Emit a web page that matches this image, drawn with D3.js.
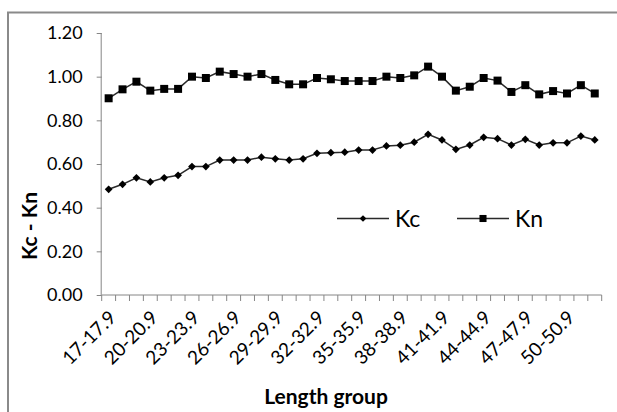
<!DOCTYPE html>
<html><head><meta charset="utf-8">
<script src="https://cdn.jsdelivr.net/npm/d3@7"></script>
<style>body{margin:0;background:#fff}svg{display:block}text{font-family:Lato,"Open Sans",sans-serif;fill:#000}</style>
</head><body><svg id="c" width="617" height="412"></svg>
<script>
const categories = [];
for (let i = 17; i <= 52; i++) categories.push(i + "-" + i + ".9");
const kc = [0.484,0.507,0.537,0.518,0.537,0.548,0.588,0.588,0.618,0.618,0.618,0.631,0.624,0.618,0.624,0.649,0.652,0.654,0.664,0.664,0.683,0.686,0.700,0.736,0.710,0.667,0.687,0.722,0.716,0.687,0.713,0.687,0.697,0.697,0.728,0.710];
const kn = [0.901,0.942,0.977,0.936,0.944,0.944,1.000,0.994,1.023,1.012,1.000,1.012,0.985,0.965,0.965,0.994,0.988,0.980,0.980,0.980,1.000,0.994,1.006,1.046,1.000,0.936,0.954,0.994,0.982,0.930,0.961,0.919,0.934,0.923,0.961,0.923];
const yTicks = [0,0.2,0.4,0.6,0.8,1.0,1.2];
const labelEvery = 3;

const svg = d3.select("#c");
const L = 101.7, R = 601.7, T = 33, B = 295;
const x = d3.scaleBand().domain(categories).range([L, R]);
const y = d3.scaleLinear().domain([0, 1.2]).range([B, T]);
const axisColor = "#868686";

// outer border
svg.append("path").attr("d", "M8,420 L8,12.5 L625,12.5").attr("fill","none").attr("stroke","#8a8a8a").attr("stroke-width",2);

// y axis
const ya = svg.append("g").attr("transform", `translate(${L},0)`)
  .call(d3.axisLeft(y).tickValues(yTicks).tickSize(5).tickPadding(14).tickFormat(d3.format(".2f")));
ya.select(".domain").attr("stroke", axisColor).attr("d", `M-0.5,${T}V${B}`);
ya.selectAll(".tick line").attr("stroke", axisColor);
ya.selectAll(".tick text").style("font-size","18px").style("font-family","Lato,sans-serif").attr("fill","#000");

// x axis
const xa = svg.append("g").attr("transform", `translate(0,${B})`);
xa.append("line").attr("x1", L).attr("x2", R).attr("stroke", axisColor);
const bounds = categories.map(c => x(c)).concat([R]);
xa.selectAll("line.tk").data(bounds).enter().append("line").attr("class","tk")
  .attr("x1", d => d).attr("x2", d => d).attr("y1", 0).attr("y2", 6).attr("stroke", axisColor);
xa.selectAll("text").data(categories.filter((c,i) => i % labelEvery === 0)).enter().append("text")
  .attr("transform", d => `translate(${x(d) + x.bandwidth()/2 + 4},${19}) rotate(-45)`)
  .attr("text-anchor","end").attr("dy","0.35em").style("font-size","19px").text(d => d);

const cx = (d,i) => x(categories[i]) + x.bandwidth()/2;
const line = d3.line().x((d,i) => cx(d,i)).y(d => y(d));
const lineColor = "#2a2a2a";
svg.append("path").datum(kc).attr("d", line).attr("fill","none").attr("stroke",lineColor).attr("stroke-width",1.5);
svg.append("path").datum(kn).attr("d", line).attr("fill","none").attr("stroke",lineColor).attr("stroke-width",1.5);

svg.append("g").selectAll("path").data(kc).enter().append("path")
  .attr("d", d3.symbol().type(d3.symbolSquare).size(30))
  .attr("transform", (d,i) => `translate(${cx(d,i)},${y(d)}) rotate(45)`).attr("fill","#000");
svg.append("g").selectAll("path").data(kn).enter().append("path")
  .attr("d", d3.symbol().type(d3.symbolSquare).size(64))
  .attr("transform", (d,i) => `translate(${cx(d,i)},${y(d)})`).attr("fill","#000");

// legend
const leg = svg.append("g");
const legItems = [{name:"Kc", x0:337, shape:"diamond"},{name:"Kn", x0:457, shape:"square"}];
legItems.forEach(it => {
  leg.append("line").attr("x1", it.x0).attr("x2", it.x0 + 52).attr("y1", 218.5).attr("y2", 218.5).attr("stroke", lineColor).attr("stroke-width",1.5);
  leg.append("path").attr("d", d3.symbol().type(d3.symbolSquare).size(it.shape === "diamond" ? 22 : 50))
    .attr("transform", `translate(${it.x0 + 26},218.5)` + (it.shape === "diamond" ? " rotate(45)" : "")).attr("fill","#000");
  leg.append("text").attr("x", it.x0 + 58).attr("y", 226.5).style("font-size","23px").text(it.name);
});

// axis titles
svg.append("text").attr("transform","translate(37,226) rotate(-90)").attr("text-anchor","middle")
  .style("font-size","21px").style("font-weight","bold").text("Kc - Kn");
svg.append("text").attr("x", 326).attr("y", 404).attr("text-anchor","middle")
  .style("font-size","21px").style("font-weight","bold").text("Length group");
</script></body></html>
